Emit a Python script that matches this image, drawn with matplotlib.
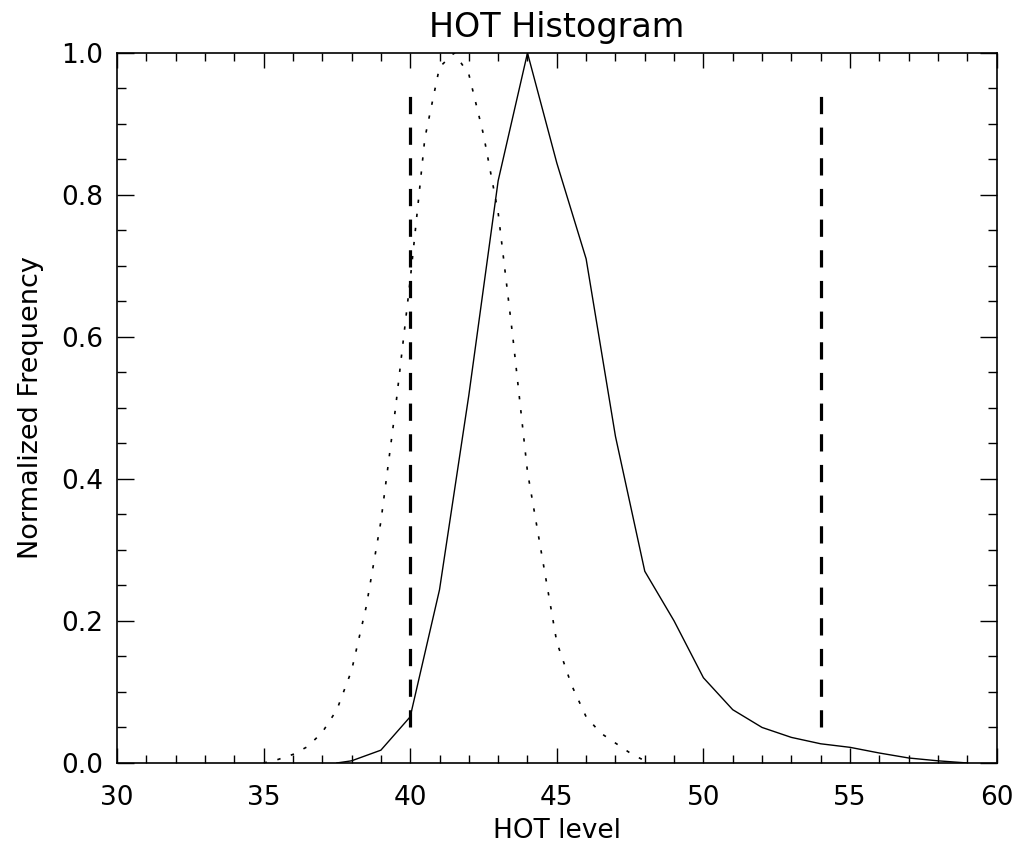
import numpy as np
import matplotlib
matplotlib.use("Agg")
import matplotlib.pyplot as plt
from matplotlib.ticker import MultipleLocator

# HOT histogram (solid) -- normalized frequency per HOT level
hot_x = [37.5, 38, 39, 40, 41, 42, 43, 44, 45, 46, 47, 48, 49, 50,
         51, 52, 53, 54, 55, 56, 57, 58, 59]
hot_y = [0.0, 0.003, 0.018, 0.065, 0.244, 0.518, 0.82, 1.0, 0.845, 0.71,
         0.46, 0.27, 0.2, 0.12, 0.075, 0.05, 0.036, 0.027, 0.022, 0.014,
         0.007, 0.003, 0.0]

# reference histogram (dotted)
ref_x = [35.0, 35.5, 36.0, 36.5, 37.0, 37.5, 38.0, 38.5, 39.0, 39.5, 40.0,
         40.5, 41.0, 41.5, 42.0, 42.5, 43.0, 43.5, 44.0, 44.5, 45.0, 45.5,
         46.0, 46.5, 47.0, 47.5, 48.0]
ref_y = [0.0, 0.005, 0.012, 0.023, 0.043, 0.075, 0.13, 0.22, 0.34, 0.50,
         0.68, 0.88, 0.98, 1.0, 0.97, 0.885, 0.775, 0.60, 0.41, 0.29, 0.17,
         0.11, 0.065, 0.042, 0.028, 0.014, 0.003]

# threshold markers
thresholds = [40, 54]
thr_lo, thr_hi = 0.05, 0.945

fig = plt.figure(figsize=(10.17, 8.5), dpi=100)
ax = fig.add_axes([0.115, 0.1024, 0.865, 0.8353])

ax.plot(hot_x, hot_y, color='black', lw=1.0)
ax.plot(ref_x, ref_y, color='black', lw=1.2, linestyle=(0, (2, 6.5)))
for t in thresholds:
    ax.plot([t, t], [thr_lo, thr_hi], color='black', lw=2.3,
            linestyle=(0, (5.4, 4.2)))

ax.set_xlim(30, 60)
ax.set_ylim(0, 1)
ax.xaxis.set_major_locator(MultipleLocator(5))
ax.xaxis.set_minor_locator(MultipleLocator(1))
ax.yaxis.set_major_locator(MultipleLocator(0.2))
ax.yaxis.set_minor_locator(MultipleLocator(0.05))
ax.set_yticklabels([f"{v:.1f}" for v in ax.get_yticks()])

ax.tick_params(axis='both', which='both', direction='in', top=True,
               right=True, width=1.0, color='black', labelsize=19)
ax.tick_params(axis='x', which='major', length=10.5, pad=16)
ax.tick_params(axis='x', which='minor', length=5.5)
ax.tick_params(axis='y', which='major', length=12.5, pad=10)
ax.tick_params(axis='y', which='minor', length=6.5)
for s in ax.spines.values():
    s.set_linewidth(1.2)

ax.set_title("HOT Histogram", fontsize=24, pad=11.5)
ax.set_xlabel("HOT level", fontsize=19, labelpad=5)
ax.set_ylabel("Normalized Frequency", fontsize=19.5, labelpad=12)

fig.savefig("out.png", dpi=100)
